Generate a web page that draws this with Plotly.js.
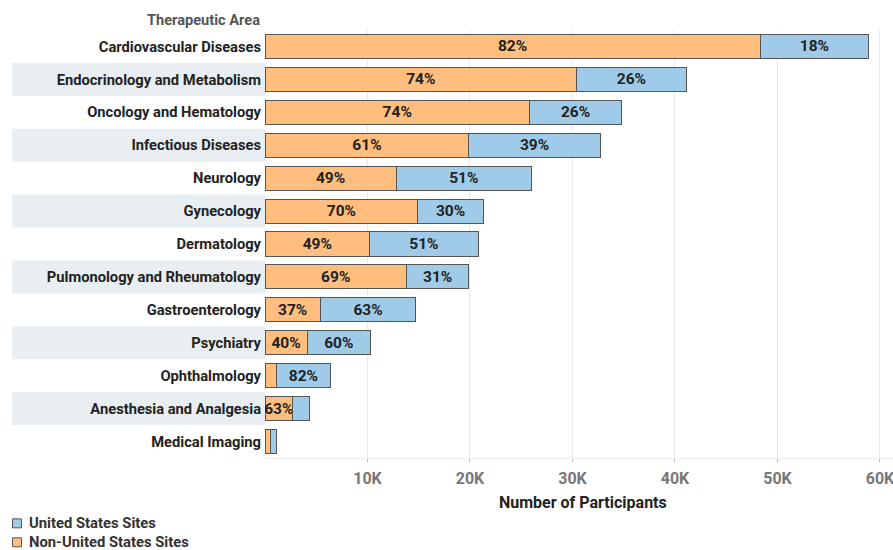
<!DOCTYPE html>
<html>
<head>
<meta charset="utf-8">
<script src="https://cdn.plot.ly/plotly-3.0.1.min.js"></script>
<style>html,body{margin:0;padding:0;background:#fff;}#chart{width:893px;height:550px;}</style>
</head>
<body>
<div id="chart"></div>
<script>
const categories = ["Cardiovascular Diseases","Endocrinology and Metabolism","Oncology and Hematology","Infectious Diseases","Neurology","Gynecology","Dermatology","Pulmonology and Rheumatology","Gastroenterology","Psychiatry","Ophthalmology","Anesthesia and Analgesia","Medical Imaging"];
const nonUSSites = [48300,30400,25800,19900,12800,14900,10200,13800,5400,4100,1100,2700,550];
const usSites = [10600,10700,9000,12800,13200,6400,10600,6100,9300,6200,5300,1600,620];
const nonUSLabels = ["82%","74%","74%","61%","49%","70%","49%","69%","37%","40%","","63%",""];
const usLabels = ["18%","26%","26%","39%","51%","30%","51%","31%","63%","60%","82%","",""];
const tickValues = [10000,20000,30000,40000,50000,60000];
const tickLabels = ["10K","20K","30K","40K","50K","60K"];
const seriesNames = ["United States Sites","Non-United States Sites"];
const seriesColors = ["#a0cbe8","#ffbe7d"];

const FONT = '"Roboto", "Liberation Sans", sans-serif';
const PLOT_L = 265, PLOT_W = 628, PLOT_B = 458.5, PLOT_H = 429;
const px2x = p => (p - PLOT_L) / PLOT_W;
const px2y = p => -(p - PLOT_B) / PLOT_H;

const shapes = [];
categories.forEach((c, i) => {
  if (i % 2 === 1) {
    shapes.push({type:'rect', xref:'paper', yref:'y', x0:px2x(12), x1:0, y0:i-0.5, y1:i+0.5,
      fillcolor:'#e8eef1', line:{width:0}, layer:'below'});
  }
});

const annotations = [
  {text:'Therapeutic Area', xref:'paper', yref:'paper', x:0, y:px2y(19.5), xanchor:'right', yanchor:'middle',
    xshift:-3, showarrow:false, font:{family:FONT, size:14.6, color:'#555', weight:'bold'}},
  {text:'Number of Participants', xref:'paper', yref:'paper', x:px2x(582.5), y:px2y(503.5), xanchor:'center', yanchor:'middle',
    showarrow:false, font:{family:FONT, size:16, color:'#222', weight:'bold'}}
];
// manual legend
const legendRows = [524, 543];
seriesNames.forEach((name, k) => {
  const cy = legendRows[k];
  shapes.push({type:'rect', xref:'paper', yref:'paper', x0:px2x(12.5), x1:px2x(21.5), y0:px2y(cy-4.5), y1:px2y(cy+4.5),
    fillcolor:seriesColors[k], line:{color:'#555', width:1}});
  annotations.push({text:name, xref:'paper', yref:'paper', x:px2x(27), y:px2y(cy), xanchor:'left', yanchor:'middle',
    showarrow:false, font:{family:FONT, size:14.8, color:'#333', weight:'bold'}});
});

const traces = [
  {type:'bar', orientation:'h', name:seriesNames[1], y:categories, x:nonUSSites,
   marker:{color:seriesColors[1], line:{color:'#555555', width:1}},
   text:nonUSLabels, textposition:'inside', insidetextanchor:'middle', constraintext:'none',
   textfont:{family:FONT, size:15.5, color:'#222', weight:'bold'}, hoverinfo:'x+y'},
  {type:'bar', orientation:'h', name:seriesNames[0], y:categories, x:usSites,
   marker:{color:seriesColors[0], line:{color:'#555555', width:1}},
   text:usLabels, textposition:'inside', insidetextanchor:'middle', constraintext:'none',
   textfont:{family:FONT, size:15.5, color:'#222', weight:'bold'}, hoverinfo:'x+y'}
];

const layout = {
  width:893, height:550,
  margin:{l:PLOT_L, r:0, t:29.5, b:91.5, autoexpand:false},
  barmode:'stack', bargap:0.27,
  paper_bgcolor:'#fff', plot_bgcolor:'#fff',
  font:{family:FONT, size:14, color:'#333'},
  showlegend:false,
  xaxis:{range:[0,61270], tickvals:tickValues, ticktext:tickLabels, showgrid:true, gridcolor:'#e8e8e8',
    zeroline:false, showline:true, linecolor:'#efefef', linewidth:1, ticklabeloverflow:'allow',
    ticks:'outside', ticklen:3, tickcolor:'#bbbbbb', automargin:false, ticklabelstandoff:3,
    tickfont:{family:FONT, size:16, color:'#777', weight:'bold'}},
  yaxis:{categoryorder:'array', categoryarray:categories, autorange:'reversed', showgrid:false, zeroline:false,
    ticks:'', showline:false, automargin:false, ticklabelstandoff:3,
    tickfont:{family:FONT, size:14.7, color:'#222', weight:'bold'}},
  shapes:shapes,
  annotations:annotations
};

Plotly.newPlot('chart', traces, layout, {displayModeBar:false, staticPlot:true});
</script>
</body>
</html>
